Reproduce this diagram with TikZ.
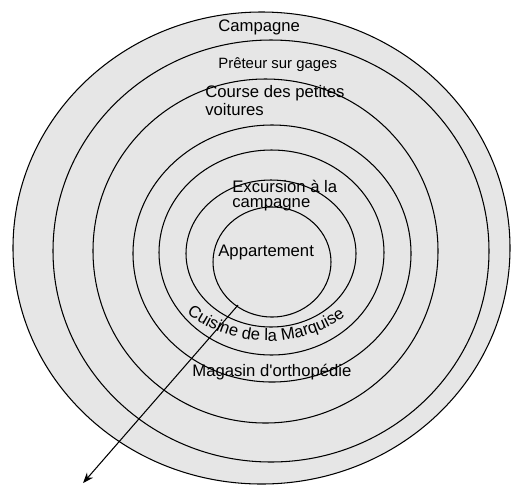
\documentclass[tikz,border=0pt]{standalone}
\usepackage{fontspec}
\setmainfont{Liberation Sans}[Ligatures=TeXOff]
\usetikzlibrary{arrows.meta,decorations.text}
\definecolor{harmaa}{RGB}{230,230,230}
\begin{document}
\begin{tikzpicture}[scale=0.02,
  rengas/.style={draw=black,fill=harmaa,line width=0.6pt},
  teksti/.style={anchor=base west,inner sep=0pt,font=\fontsize{9.5}{9}\selectfont},
  pieni/.style={teksti,font=\fontsize{8.5}{9}\selectfont},
  kaksi/.style={anchor=north west,inner sep=0pt,align=left}]
\useasboundingbox (0,0) rectangle (512,-486);
% renkaat ulkoa sisaan
\draw[rengas] (261.5,-248) ellipse [x radius=248.5,y radius=236];
\draw[rengas] (271,-251) ellipse [x radius=218,y radius=211];
\draw[rengas] (265.5,-251) ellipse [x radius=172.5,y radius=172];
\draw[rengas] (272,-253.5) ellipse [x radius=139,y radius=128.5];
\draw[rengas] (271.5,-252.5) ellipse [x radius=112.5,y radius=102.5];
\draw[rengas] (271,-253.5) ellipse [x radius=85,y radius=73.5];
\draw[rengas] (272,-262) ellipse [x radius=59,y radius=55];
% tekstit
\node[teksti] (campagne) at (218,-31) {Campagne};
\node[pieni] (preteur) at (218,-68) {Prêteur sur gages};
\node[kaksi,font=\fontsize{9.5}{10}\selectfont] (course) at (205,-85) {Course des petites\\voitures};
\node[kaksi,font=\fontsize{9.5}{8.5}\selectfont] (excursion) at (232,-180) {Excursion à la\\campagne};
\node[teksti] (appart) at (218,-256) {Appartement};
\node[teksti] (magasin) at (192,-376) {Magasin d'orthopédie};
\path[decorate,decoration={text along path,text align=center,
  text={|\fontsize{9.5}{9}\selectfont|Cuisine de la Marquise}}]
  (268,-207) ++(-128:134) arc[start angle=-128,end angle=-54,radius=134];
% nuoli
\coordinate (alku) at (238,-305);
\coordinate (loppu) at (83,-483);
\draw[line width=0.6pt,-{Stealth[length=6pt,width=4.5pt]}] (alku) -- (loppu);
\end{tikzpicture}
\end{document}
